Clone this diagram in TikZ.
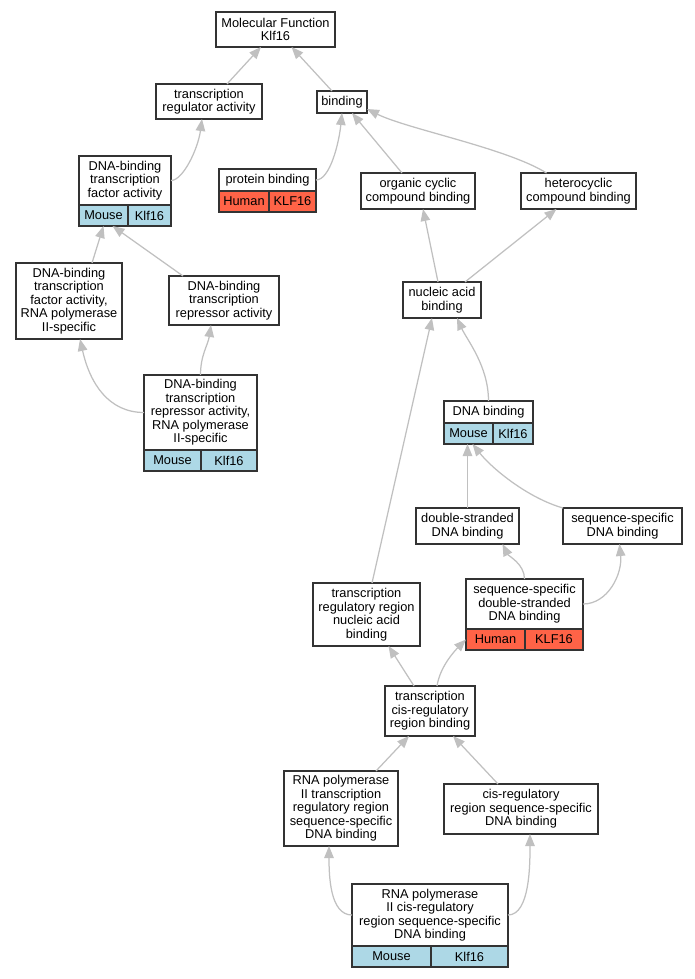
\documentclass[tikz,border=0pt]{standalone}
\usepackage{fontspec}
\setmainfont{Liberation Sans}
\usetikzlibrary{arrows.meta,positioning}

\definecolor{edgegray}{HTML}{C0C0C0}
\definecolor{boxgray}{HTML}{333333}
\definecolor{mouseblue}{HTML}{ADD8E6}
\definecolor{humanred}{HTML}{FF6347}

\begin{document}
\begin{tikzpicture}[x=1pt,y=-1pt,
    term/.style={draw=boxgray, line width=1.1pt, fill=white, align=center,
        inner sep=0pt, outer sep=0pt, font=\fontsize{12.8}{13.5}\selectfont},
    mousecell/.style={term, fill=mouseblue, anchor=north west, minimum height=21pt},
    humancell/.style={term, fill=humanred, anchor=north west, minimum height=21pt},
    isa/.style={draw=edgegray, line width=1.25pt, -{Triangle[length=12pt,width=9.5pt]}}]

    \useasboundingbox (0,0) rectangle (695,979);

    % TERMS
    \node[term, minimum width=119pt, minimum height=35pt] (mf) at (275.5,29.5) {Molecular Function\\Klf16};
    \node[term, minimum width=106pt, minimum height=35pt] (tra) at (209,101.5) {transcription\\regulator activity};
    \node[term, minimum width=50pt, minimum height=22pt] (bind) at (342,102) {binding};

    \node[term, minimum width=92pt, minimum height=49pt] (dbtfa) at (125,180.5) {DNA-binding\\transcription\\factor activity};
    \node[mousecell, minimum width=49pt] (dbtfa-m) at (dbtfa.south west) {Mouse};
    \node[mousecell, minimum width=43pt, right=0pt of dbtfa-m] (dbtfa-k) {Klf16};

    \node[term, minimum width=97pt, minimum height=22pt] (prot) at (267.5,180) {protein binding};
    \node[humancell, minimum width=50pt] (prot-h) at (prot.south west) {Human};
    \node[humancell, minimum width=47pt, right=0pt of prot-h] (prot-k) {KLF16};

    \node[term, minimum width=114pt, minimum height=36pt] (occb) at (418,191) {organic cyclic\\compound binding};
    \node[term, minimum width=115pt, minimum height=36pt] (hccb) at (578.5,191) {heterocyclic\\compound binding};

    \node[term, minimum width=106pt, minimum height=76pt] (dbtfa2) at (69,301) {DNA-binding\\transcription\\factor activity,\\RNA polymerase\\II-specific};
    \node[term, minimum width=110pt, minimum height=49pt] (dbtra) at (224,300.5) {DNA-binding\\transcription\\repressor activity};
    \node[term, minimum width=78pt, minimum height=36pt] (nab) at (442,300) {nucleic acid\\binding};

    \node[term, minimum width=113pt, minimum height=75pt] (dbtra2) at (200.5,412.5) {DNA-binding\\transcription\\repressor activity,\\RNA polymerase\\II-specific};
    \node[mousecell, minimum width=57pt] (dbtra2-m) at (dbtra2.south west) {Mouse};
    \node[mousecell, minimum width=56pt, right=0pt of dbtra2-m] (dbtra2-k) {Klf16};

    \node[term, minimum width=89pt, minimum height=22pt] (dnab) at (488.5,412) {DNA binding};
    \node[mousecell, minimum width=49pt] (dnab-m) at (dnab.south west) {Mouse};
    \node[mousecell, minimum width=40pt, right=0pt of dnab-m] (dnab-k) {Klf16};

    \node[term, minimum width=103pt, minimum height=36pt] (dsdb) at (467.5,526) {double-stranded\\DNA binding};
    \node[term, minimum width=119pt, minimum height=36pt] (ssdb) at (622.5,526) {sequence-specific\\DNA binding};

    \node[term, minimum width=107pt, minimum height=63pt] (trrnab) at (366.5,614.5) {transcription\\regulatory region\\nucleic acid\\binding};
    \node[term, minimum width=117pt, minimum height=50pt] (ssds) at (524.5,604) {sequence-specific\\double-stranded\\DNA binding};
    \node[humancell, minimum width=59pt] (ssds-h) at (ssds.south west) {Human};
    \node[humancell, minimum width=58pt, right=0pt of ssds-h] (ssds-k) {KLF16};

    \node[term, minimum width=90pt, minimum height=50pt] (tcis) at (430,711) {transcription\\cis-regulatory\\region binding};

    \node[term, minimum width=114pt, minimum height=75pt] (rtrr) at (341,808.5) {RNA polymerase\\II transcription\\regulatory region\\sequence-specific\\DNA binding};
    \node[term, minimum width=154pt, minimum height=50pt] (crss) at (521,809) {cis-regulatory\\region sequence-specific\\DNA binding};

    \node[term, minimum width=156pt, minimum height=62pt] (rcis) at (430,915) {RNA polymerase\\II cis-regulatory\\region sequence-specific\\DNA binding};
    \node[mousecell, minimum width=79pt] (rcis-m) at (rcis.south west) {Mouse};
    \node[mousecell, minimum width=77pt, right=0pt of rcis-m] (rcis-k) {Klf16};

    % IS-A EDGES
    \draw[isa] ([xshift=18pt]tra.north) -- ([xshift=-14.5pt]mf.south);
    \draw[isa] ([xshift=-10pt]bind.north) -- ([xshift=16pt]mf.south);
    \draw[isa] (dbtfa.east) .. controls +(12,0) and +(-4,30) .. ([xshift=-7pt]tra.south);
    \draw[isa] (prot.east) .. controls +(14,0) and +(-3,30) .. (bind.south);
    \draw[isa] ([xshift=-16pt]occb.north) -- ([xshift=10pt]bind.south);
    \draw[isa] ([xshift=-32pt]hccb.north) .. controls +(-40,-25) and +(40,20) .. ([yshift=-7pt]bind.east);

    \draw[isa] ([xshift=23pt]dbtfa2.north) -- (dbtfa-m.south);
    \draw[isa] ([xshift=-41pt]dbtra.north) -- ([xshift=9pt]dbtfa-m.south);
    \draw[isa] (dbtra2.west) .. controls +(-35,0) and +(10,45) .. ([xshift=11pt]dbtfa2.south);
    \draw[isa] (dbtra2.north) .. controls +(0,-20) and +(-3,20) .. ([xshift=-13pt]dbtra.south);

    \draw[isa] ([xshift=-4pt]nab.north) -- ([xshift=5pt]occb.south);
    \draw[isa] ([xshift=23pt]nab.north) -- ([xshift=-22pt]hccb.south);
    \draw[isa] (dnab.north) .. controls +(0,-35) and +(10,22) .. ([xshift=15pt]nab.south);
    \draw[isa] ([xshift=5.5pt]trrnab.north) -- ([xshift=-10pt]nab.south);

    \draw[isa] (dsdb.north) -- ([xshift=-1pt]dnab-m.south);
    \draw[isa] (ssdb.north west) .. controls +(-35,-10) and +(20,25) .. ([xshift=4pt]dnab-m.south);
    \draw[isa] (ssds.north) .. controls +(0,-15) and +(6,12) .. ([xshift=35pt]dsdb.south);
    \draw[isa] (ssds.east) .. controls +(25,0) and +(3,30) .. ([xshift=-3pt]ssdb.south);

    \draw[isa] ([xshift=-16pt]tcis.north) -- ([xshift=22pt]trrnab.south);
    \draw[isa] ([xshift=7pt]tcis.north) .. controls +(3,-20) and +(-10,10) .. (ssds-h.west);
    \draw[isa] ([xshift=35pt]rtrr.north) -- ([xshift=-21pt]tcis.south);
    \draw[isa] ([xshift=-23pt]crss.north) -- ([xshift=23pt]tcis.south);
    \draw[isa] (rcis.west) .. controls +(-22,0) and +(0,30) .. ([xshift=-12pt]rtrr.south);
    \draw[isa] (rcis.east) .. controls +(22,0) and +(0,30) .. ([xshift=9pt]crss.south);

\end{tikzpicture}
\end{document}
